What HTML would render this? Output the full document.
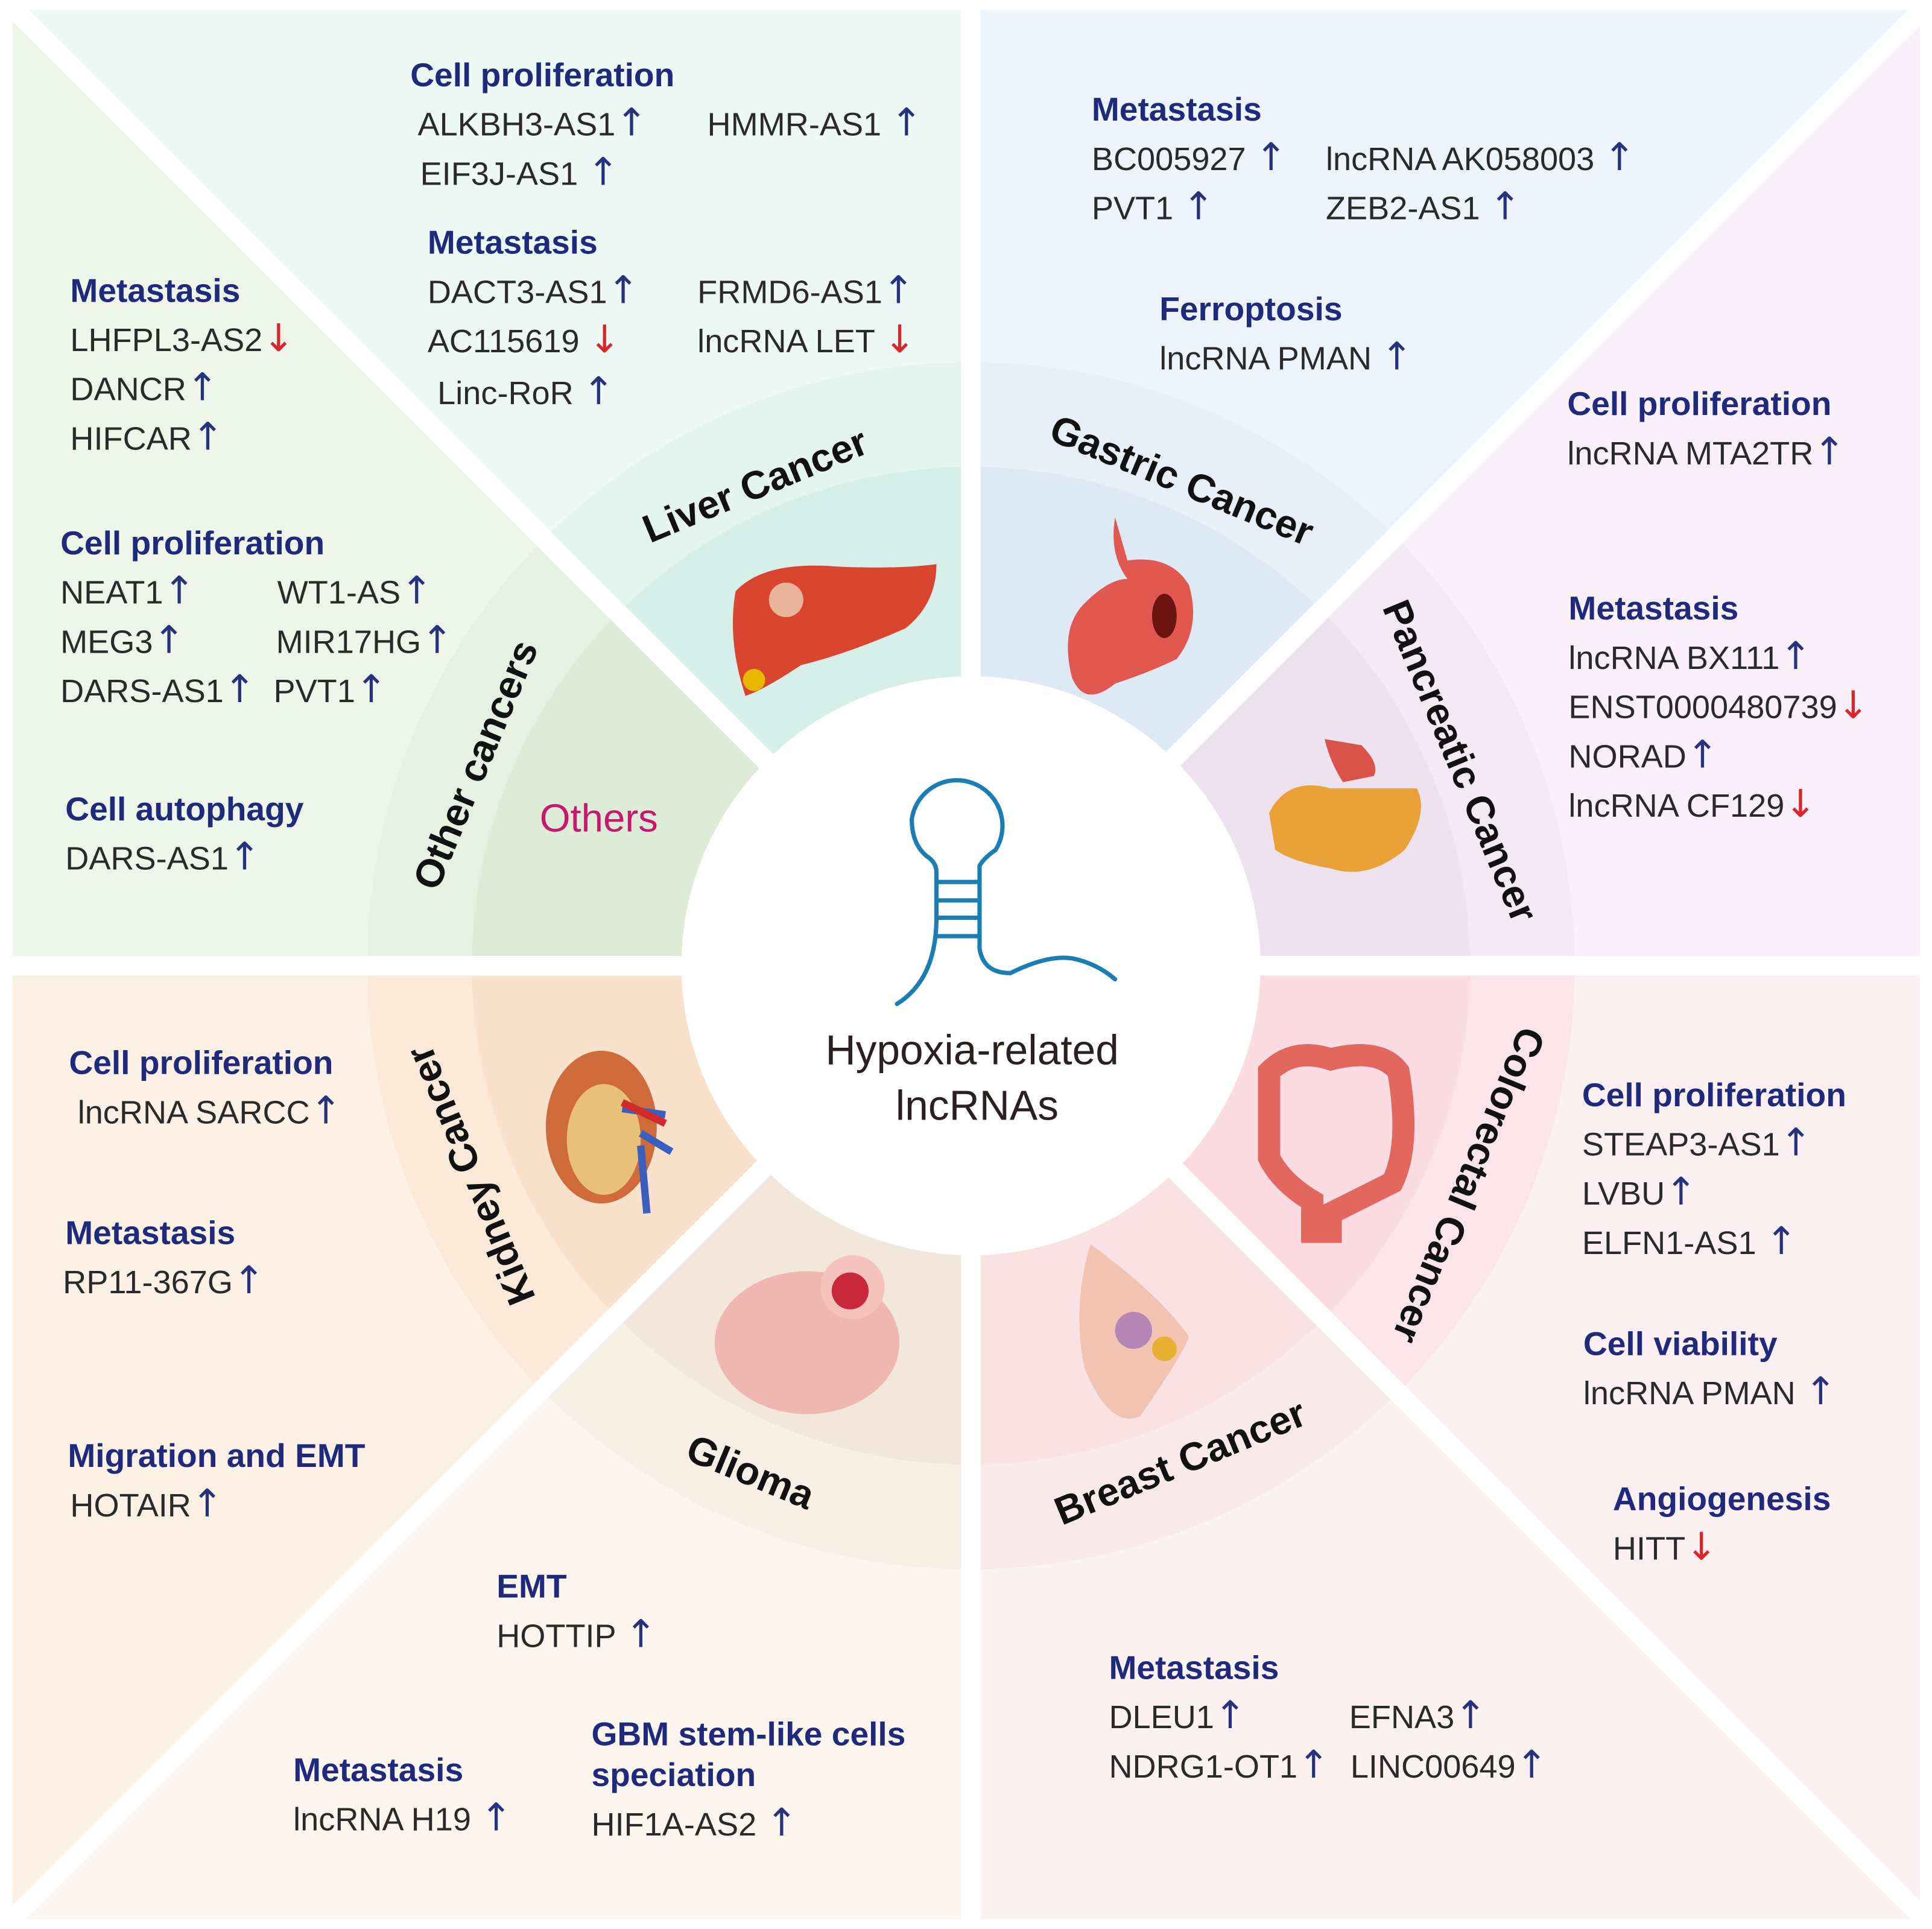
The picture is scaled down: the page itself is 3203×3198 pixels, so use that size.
<!DOCTYPE html>
<html><head><meta charset="utf-8"><style>
html,body{margin:0;padding:0;background:#fff}
svg{display:block}
text{font-family:"Liberation Sans",Arial,sans-serif}
.h{font-weight:bold;font-size:27px;fill:#1f2a7c}
.i{font-size:26.5px;fill:#2a2a2a}
.u{fill:#27327e;font-size:31px;font-family:"DejaVu Sans",sans-serif}
.d{fill:#d8262a;font-size:31px;font-family:"DejaVu Sans",sans-serif}
.t{font-weight:bold;font-size:32px;fill:#111}
</style></head><body>
<svg width="3203" height="3198" viewBox="0 0 1568 1566" preserveAspectRatio="none" xmlns="http://www.w3.org/2000/svg">
<defs>
<clipPath id="cL"><polygon points="788,784 788,0 0,0"/></clipPath>
<clipPath id="cO"><polygon points="788,784 0,0 0,784"/></clipPath>
<clipPath id="cG"><polygon points="788,784 788,0 1568,0"/></clipPath>
<clipPath id="cP"><polygon points="788,784 1568,0 1568,784"/></clipPath>
<clipPath id="cC"><polygon points="788,784 1568,784 1568,1566"/></clipPath>
<clipPath id="cB"><polygon points="788,784 1568,1566 788,1566"/></clipPath>
<clipPath id="cM"><polygon points="788,784 788,1566 0,1566"/></clipPath>
<clipPath id="cK"><polygon points="788,784 0,1566 0,784"/></clipPath>
</defs>
<rect width="1568" height="1566" fill="#fff"/>
<g clip-path="url(#cL)"><rect x="10" y="8" width="1548" height="1550" fill="#edf9f5"/><circle cx="788" cy="784" r="490" fill="#e4f5ef"/><circle cx="788" cy="784" r="405" fill="#d6efe8"/></g>
<g clip-path="url(#cO)"><rect x="10" y="8" width="1548" height="1550" fill="#eef6ea"/><circle cx="788" cy="784" r="490" fill="#e6f1e1"/><circle cx="788" cy="784" r="405" fill="#dcecd6"/></g>
<g clip-path="url(#cG)"><rect x="10" y="8" width="1548" height="1550" fill="#eef4fc"/><circle cx="788" cy="784" r="490" fill="#e7eff9"/><circle cx="788" cy="784" r="405" fill="#dee9f6"/></g>
<g clip-path="url(#cP)"><rect x="10" y="8" width="1548" height="1550" fill="#f9f0fa"/><circle cx="788" cy="784" r="490" fill="#f3eaf4"/><circle cx="788" cy="784" r="405" fill="#eee2f0"/></g>
<g clip-path="url(#cC)"><rect x="10" y="8" width="1548" height="1550" fill="#fdf0f3"/><circle cx="788" cy="784" r="490" fill="#fbe5ea"/><circle cx="788" cy="784" r="405" fill="#fadce2"/></g>
<g clip-path="url(#cB)"><rect x="10" y="8" width="1548" height="1550" fill="#fdf2f2"/><circle cx="788" cy="784" r="490" fill="#fbeaeb"/><circle cx="788" cy="784" r="405" fill="#f9e2e4"/></g>
<g clip-path="url(#cM)"><rect x="10" y="8" width="1548" height="1550" fill="#fdf6ee"/><circle cx="788" cy="784" r="490" fill="#f8efe5"/><circle cx="788" cy="784" r="405" fill="#f3e7db"/></g>
<g clip-path="url(#cK)"><rect x="10" y="8" width="1548" height="1550" fill="#fdf1e6"/><circle cx="788" cy="784" r="490" fill="#fbe9d9"/><circle cx="788" cy="784" r="405" fill="#f9e1cb"/></g>
<g stroke="#fff" stroke-width="16">
<line x1="788" y1="0" x2="788" y2="1566"/><line x1="0" y1="784" x2="1568" y2="784"/>
<line x1="0" y1="-4" x2="1572" y2="1568"/><line x1="1568" y1="0" x2="0" y2="1568"/>
</g>
<circle cx="788" cy="784" r="235" fill="#fff"/>
<g fill="none" stroke="#1a7db3" stroke-width="3.5" stroke-linecap="round">
<path d="M760,745 L760,708 Q760,700 752,695 Q740,685 740,665 A37,37 0 1 1 808,690 Q798,697 795,703 L795,745"/>
<path d="M760,745 Q760,795 728,815 M795,745 L795,770 Q798,790 820,790 Q850,775 870,778 Q890,782 905,795" />
<path d="M760,716 H795 M760,731 H795 M760,745 H795 M760,760 H795"/>
</g>
<text x="789" y="864" text-anchor="middle" font-size="34" fill="#2a2020">Hypoxia-related</text>
<text x="793" y="909" text-anchor="middle" font-size="34" fill="#2a2020">lncRNAs</text>
<path d="M597,480 Q620,455 680,460 Q730,462 760,458 Q760,490 735,510 Q690,530 650,540 Q620,560 605,565 Q590,520 597,480Z" fill="#d9452f"/>
<circle cx="612" cy="552" r="9" fill="#e6b800"/><circle cx="638" cy="487" r="14" fill="#e8b59a"/>
<path d="M905,420 Q900,450 915,470 Q900,470 880,490 Q860,510 870,550 Q880,575 905,555 Q935,545 955,535 Q975,510 965,475 Q950,450 915,455Z" fill="#e0584f"/>
<ellipse cx="945" cy="500" rx="10" ry="18" fill="#6a1510"/>
<path d="M1030,660 Q1045,630 1080,640 Q1120,640 1150,640 Q1160,660 1140,690 Q1110,715 1080,705 Q1050,700 1035,690Z" fill="#e9a238"/>
<path d="M1075,600 Q1080,620 1090,635 L1115,630 Q1120,620 1105,605Z" fill="#d9534a"/>
<path d="M1030,870 Q1050,850 1080,860 Q1120,850 1135,870 Q1145,930 1130,960 Q1100,975 1080,985 L1080,1000 L1065,1000 L1065,975 Q1040,960 1030,940Z" fill="none" stroke="#e2675f" stroke-width="18"/>
<path d="M885,1010 Q870,1060 880,1110 Q900,1160 925,1150 Q960,1100 965,1085 Q940,1050 885,1010Z" fill="#f2c3b0"/>
<circle cx="920" cy="1080" r="15" fill="#b585b5"/><circle cx="945" cy="1095" r="10" fill="#e8b030"/>
<ellipse cx="655" cy="1090" rx="75" ry="58" fill="#eeb7b0"/>
<circle cx="692" cy="1045" r="26" fill="#f6c2bd"/><circle cx="690" cy="1048" r="15" fill="#c8283a"/>
<ellipse cx="488" cy="915" rx="45" ry="62" fill="#cf6a3b"/><ellipse cx="490" cy="925" rx="30" ry="45" fill="#e8c07a"/>
<path d="M505,900 L540,905 M520,920 L545,935 M520,930 L525,985" stroke="#3a5fbf" stroke-width="6"/>
<path d="M505,895 L540,912" stroke="#d22a2a" stroke-width="6"/>
<text class="t" text-anchor="middle" transform="translate(617,404) rotate(-22.5)">Liver Cancer</text>
<text class="t" text-anchor="middle" transform="translate(955,400) rotate(22.5)">Gastric Cancer</text>
<text class="t" text-anchor="middle" transform="translate(1175,622) rotate(67.5)">Pancreatic Cancer</text>
<text class="t" text-anchor="middle" transform="translate(1182,958) rotate(112.5)">Colorectal Cancer</text>
<text class="t" text-anchor="middle" transform="translate(962,1197) rotate(-22.5)">Breast Cancer</text>
<text class="t" text-anchor="middle" transform="translate(605,1205) rotate(22.5)">Glioma</text>
<text class="t" text-anchor="middle" transform="translate(392,950) rotate(-112.5)">Kidney Cancer</text>
<text class="t" text-anchor="middle" transform="translate(396,625) rotate(-67.5)">Other cancers</text>
<text x="486" y="675" text-anchor="middle" font-size="32" fill="#c8176e">Others</text>
<text class="h" x="333" y="70">Cell proliferation</text>
<text class="i" x="339" y="110">ALKBH3-AS1<tspan class="u">↑</tspan></text>
<text class="i" x="574" y="110">HMMR-AS1 <tspan class="u">↑</tspan></text>
<text class="i" x="341" y="150">EIF3J-AS1 <tspan class="u">↑</tspan></text>
<text class="h" x="347" y="206">Metastasis</text>
<text class="i" x="347" y="246">DACT3-AS1<tspan class="u">↑</tspan></text>
<text class="i" x="566" y="246">FRMD6-AS1<tspan class="u">↑</tspan></text>
<text class="i" x="347" y="286">AC115619 <tspan class="d">↓</tspan></text>
<text class="i" x="566" y="286">lncRNA LET <tspan class="d">↓</tspan></text>
<text class="i" x="355" y="328">Linc-RoR <tspan class="u">↑</tspan></text>
<text class="h" x="57" y="245">Metastasis</text>
<text class="i" x="57" y="285">LHFPL3-AS2<tspan class="d">↓</tspan></text>
<text class="i" x="57" y="325">DANCR<tspan class="u">↑</tspan></text>
<text class="i" x="57" y="365">HIFCAR<tspan class="u">↑</tspan></text>
<text class="h" x="49" y="450">Cell proliferation</text>
<text class="i" x="49" y="490">NEAT1<tspan class="u">↑</tspan></text>
<text class="i" x="225" y="490">WT1-AS<tspan class="u">↑</tspan></text>
<text class="i" x="49" y="530">MEG3<tspan class="u">↑</tspan></text>
<text class="i" x="224" y="530">MIR17HG<tspan class="u">↑</tspan></text>
<text class="i" x="49" y="570">DARS-AS1<tspan class="u">↑</tspan></text>
<text class="i" x="222" y="570">PVT1<tspan class="u">↑</tspan></text>
<text class="h" x="53" y="666">Cell autophagy</text>
<text class="i" x="53" y="706">DARS-AS1<tspan class="u">↑</tspan></text>
<text class="h" x="886" y="98">Metastasis</text>
<text class="i" x="886" y="138">BC005927 <tspan class="u">↑</tspan></text>
<text class="i" x="1076" y="138">lncRNA AK058003 <tspan class="u">↑</tspan></text>
<text class="i" x="886" y="178">PVT1 <tspan class="u">↑</tspan></text>
<text class="i" x="1076" y="178">ZEB2-AS1 <tspan class="u">↑</tspan></text>
<text class="h" x="941" y="260">Ferroptosis</text>
<text class="i" x="941" y="300">lncRNA PMAN <tspan class="u">↑</tspan></text>
<text class="h" x="1272" y="337">Cell proliferation</text>
<text class="i" x="1272" y="377">lncRNA MTA2TR<tspan class="u">↑</tspan></text>
<text class="h" x="1273" y="503">Metastasis</text>
<text class="i" x="1273" y="543">lncRNA BX111<tspan class="u">↑</tspan></text>
<text class="i" x="1273" y="583">ENST0000480739<tspan class="d">↓</tspan></text>
<text class="i" x="1273" y="623">NORAD<tspan class="u">↑</tspan></text>
<text class="i" x="1273" y="663">lncRNA CF129<tspan class="d">↓</tspan></text>
<text class="h" x="1284" y="898">Cell proliferation</text>
<text class="i" x="1284" y="938">STEAP3-AS1<tspan class="u">↑</tspan></text>
<text class="i" x="1284" y="978">LVBU<tspan class="u">↑</tspan></text>
<text class="i" x="1284" y="1018">ELFN1-AS1 <tspan class="u">↑</tspan></text>
<text class="h" x="1285" y="1100">Cell viability</text>
<text class="i" x="1285" y="1140">lncRNA PMAN <tspan class="u">↑</tspan></text>
<text class="h" x="1309" y="1226">Angiogenesis</text>
<text class="i" x="1309" y="1266">HITT<tspan class="d">↓</tspan></text>
<text class="h" x="900" y="1363">Metastasis</text>
<text class="i" x="900" y="1403">DLEU1<tspan class="u">↑</tspan></text>
<text class="i" x="1095" y="1403">EFNA3<tspan class="u">↑</tspan></text>
<text class="i" x="900" y="1443">NDRG1-OT1<tspan class="u">↑</tspan></text>
<text class="i" x="1096" y="1443">LINC00649<tspan class="u">↑</tspan></text>
<text class="h" x="403" y="1297">EMT</text>
<text class="i" x="403" y="1337">HOTTIP <tspan class="u">↑</tspan></text>
<text class="h" x="238" y="1446">Metastasis</text>
<text class="i" x="238" y="1486">lncRNA H19 <tspan class="u">↑</tspan></text>
<text class="h" x="480" y="1417">GBM stem-like cells</text>
<text class="h" x="480" y="1450">speciation</text>
<text class="i" x="480" y="1490">HIF1A-AS2 <tspan class="u">↑</tspan></text>
<text class="h" x="56" y="872">Cell proliferation</text>
<text class="i" x="63" y="912">lncRNA SARCC<tspan class="u">↑</tspan></text>
<text class="h" x="53" y="1010">Metastasis</text>
<text class="i" x="51" y="1050">RP11-367G<tspan class="u">↑</tspan></text>
<text class="h" x="55" y="1191">Migration and EMT</text>
<text class="i" x="57" y="1231">HOTAIR<tspan class="u">↑</tspan></text>
</svg>
</body></html>
